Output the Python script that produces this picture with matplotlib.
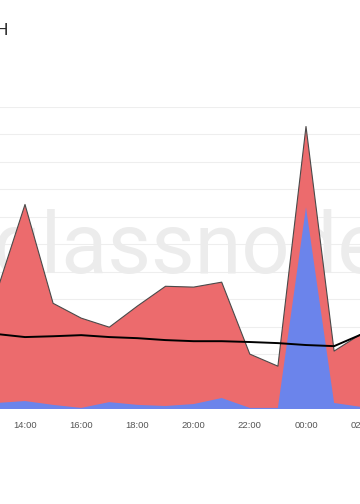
import numpy as np
import matplotlib.pyplot as plt

hours = [13, 14, 15, 16, 17, 18, 19, 20, 21, 22, 23, 24, 25, 26]
total = [429, 745, 385, 331, 298, 375, 447, 444, 462, 200, 156, 1029, 211, 276]
blue = [22, 29, 15, 4, 25, 15, 11, 18, 40, 4, 4, 735, 22, 7]
avg = [273, 262, 265, 269, 262, 258, 251, 247, 247, 244, 240, 233, 229, 273]
tick_hours = [14, 16, 18, 20, 22, 24, 26]
tick_labels = ['14:00', '16:00', '18:00', '20:00', '22:00', '00:00', '02:00']

W, H = 360, 504
fig = plt.figure(figsize=(W / 100, H / 100), dpi=100)
# axes run a bit past the picture edges, like the cropped original
left_px = -3.1
right_px = 362.2
bottom_px = 409
top_px = 107
ax = fig.add_axes([left_px / W, (H - bottom_px) / H,
                   (right_px - left_px) / W, (bottom_px - top_px) / H])

ax.text(188 / W, (H - 273) / H, 'glassnode', transform=fig.transFigure,
        ha='center', va='baseline', fontsize=61, family='Roboto',
        color='#ececec', zorder=0.8)

x = np.array(hours)
ax.fill_between(x, 0, total, color='#ec6b6d', lw=0, zorder=2)
ax.plot(x, total, color='#4a4a4a', lw=0.8, zorder=2.5)
ax.fill_between(x, 0, blue, color='#6b84eb', lw=0, zorder=2.2)
ax.plot(x, avg, color='black', lw=1.4, zorder=3)

ax.set_xlim(13, 26)
ax.set_ylim(0, 1100)
ax.set_yticks(np.arange(0, 1101, 100))
ax.set_yticklabels([])
ax.set_xticks(tick_hours)
ax.set_xticklabels(tick_labels, family='Liberation Sans', fontsize=6.8, color='#555555')
ax.tick_params(length=0, pad=9)
ax.grid(axis='y', color='#eeeeee', lw=0.8)
ax.set_axisbelow(True)
for s in ax.spines.values():
    s.set_visible(False)

fig.text(8.6 / W, (H - 35) / H, 'ETH', ha='right', va='baseline',
         fontsize=12, family='Liberation Sans', color='#222222')

fig.savefig('out.png', dpi=100)
